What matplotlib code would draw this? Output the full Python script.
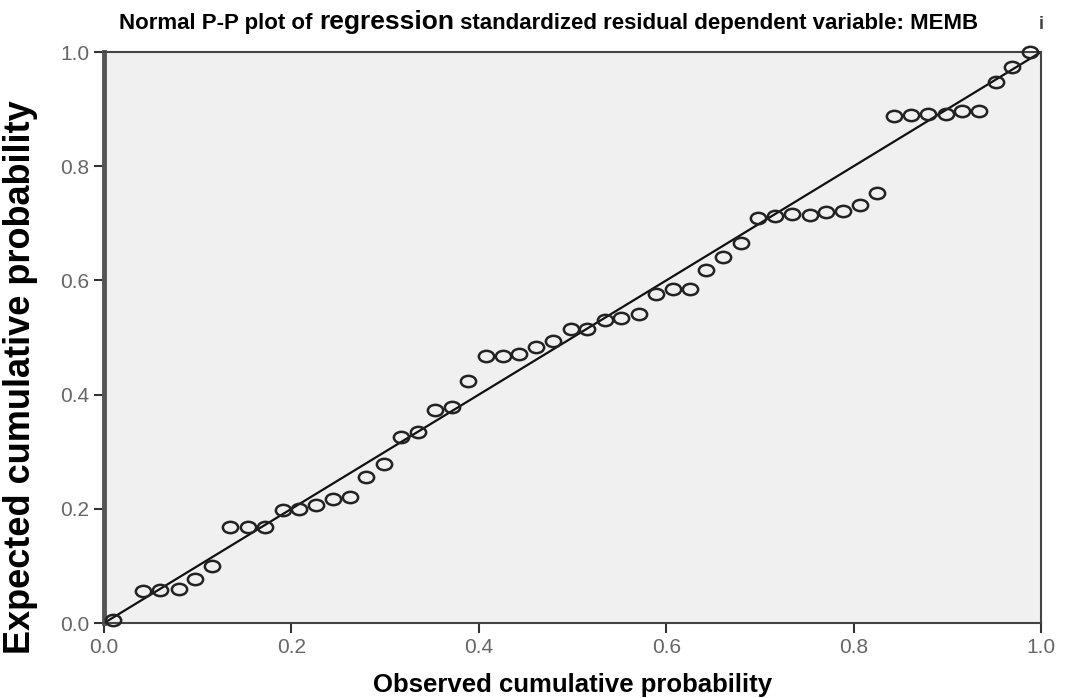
import numpy as np
import matplotlib
matplotlib.use('Agg')
import matplotlib.pyplot as plt
from matplotlib.path import Path
from matplotlib.transforms import Affine2D
from matplotlib.offsetbox import TextArea, HPacker, AnchoredOffsetbox

observed = [0.010, 0.042, 0.060, 0.080, 0.097, 0.115, 0.134, 0.154, 0.172, 0.191,
            0.208, 0.226, 0.244, 0.262, 0.280, 0.299, 0.317, 0.335, 0.353, 0.371,
            0.388, 0.408, 0.426, 0.443, 0.461, 0.479, 0.498, 0.515, 0.535, 0.552,
            0.571, 0.589, 0.607, 0.625, 0.642, 0.661, 0.680, 0.698, 0.716, 0.734,
            0.753, 0.771, 0.789, 0.807, 0.825, 0.843, 0.861, 0.879, 0.899, 0.916,
            0.934, 0.952, 0.969, 0.988]
expected = [0.005, 0.056, 0.058, 0.060, 0.077, 0.100, 0.168, 0.168, 0.168, 0.198,
            0.200, 0.207, 0.217, 0.220, 0.256, 0.278, 0.326, 0.334, 0.373, 0.378,
            0.424, 0.468, 0.468, 0.471, 0.483, 0.494, 0.515, 0.515, 0.531, 0.534,
            0.541, 0.576, 0.585, 0.585, 0.618, 0.641, 0.665, 0.709, 0.713, 0.716,
            0.715, 0.720, 0.722, 0.732, 0.753, 0.888, 0.890, 0.891, 0.891, 0.897,
            0.897, 0.947, 0.974, 1.000]
ticks = [0.0, 0.2, 0.4, 0.6, 0.8, 1.0]
tick_labels = ['0.0', '0.2', '0.4', '0.6', '0.8', '1.0']

plt.rcParams['font.family'] = ['Liberation Sans', 'DejaVu Sans']

fig = plt.figure(figsize=(10.65, 6.98), dpi=100)
ax = fig.add_axes([0.0977, 0.1074, 0.8798, 0.8181])
ax.set_facecolor('#f0f0f0')

# slightly wide ellipse marker, like the stretched original
ell = Path.unit_circle().transformed(Affine2D().scale(1.35, 1.0))

ax.plot([0, 1], [0, 1], color='#111111', lw=1.6, zorder=2)
ax.plot(observed, expected, linestyle='none', marker=ell, markersize=11,
        mfc='none', mec='#222222', mew=1.8, zorder=3, clip_on=False)

ax.set_xlim(0, 1)
ax.set_ylim(0, 1)
ax.set_xticks(ticks)
ax.set_xticklabels(tick_labels)
ax.set_yticks(ticks)
ax.set_yticklabels(tick_labels)
ax.tick_params(direction='out', length=7, width=1.5, color='#333333',
               labelsize=15, labelcolor='#666666')
for side in ['top', 'right', 'bottom']:
    ax.spines[side].set_color('#444444')
    ax.spines[side].set_linewidth(1.5)
ax.spines['left'].set_color('#555555')
ax.spines['left'].set_linewidth(3.5)

ax.set_xlabel('Observed cumulative probability', fontsize=18.5, fontweight='bold',
              labelpad=12)
ax.set_ylabel('Expected cumulative probability', fontsize=26, fontweight='bold')
ax.yaxis.set_label_coords(-0.071, 0.43)

# title with the larger word in the middle
parts = [TextArea('Normal P-P plot of ', textprops=dict(fontsize=16, fontweight='bold')),
         TextArea('regression', textprops=dict(fontsize=19, fontweight='bold')),
         TextArea(' standardized residual dependent variable: MEMB',
                  textprops=dict(fontsize=16, fontweight='bold'))]
box = HPacker(children=parts, align='baseline', pad=0, sep=0)
anch = AnchoredOffsetbox(loc='lower left', child=box, pad=0, frameon=False,
                         bbox_to_anchor=(0.112, 0.952), bbox_transform=fig.transFigure,
                         borderpad=0)
fig.add_artist(anch)
fig.text(0.975, 0.958, 'i', fontsize=13, fontweight='bold', color='#444444')

fig.savefig('out.png', dpi=100)
